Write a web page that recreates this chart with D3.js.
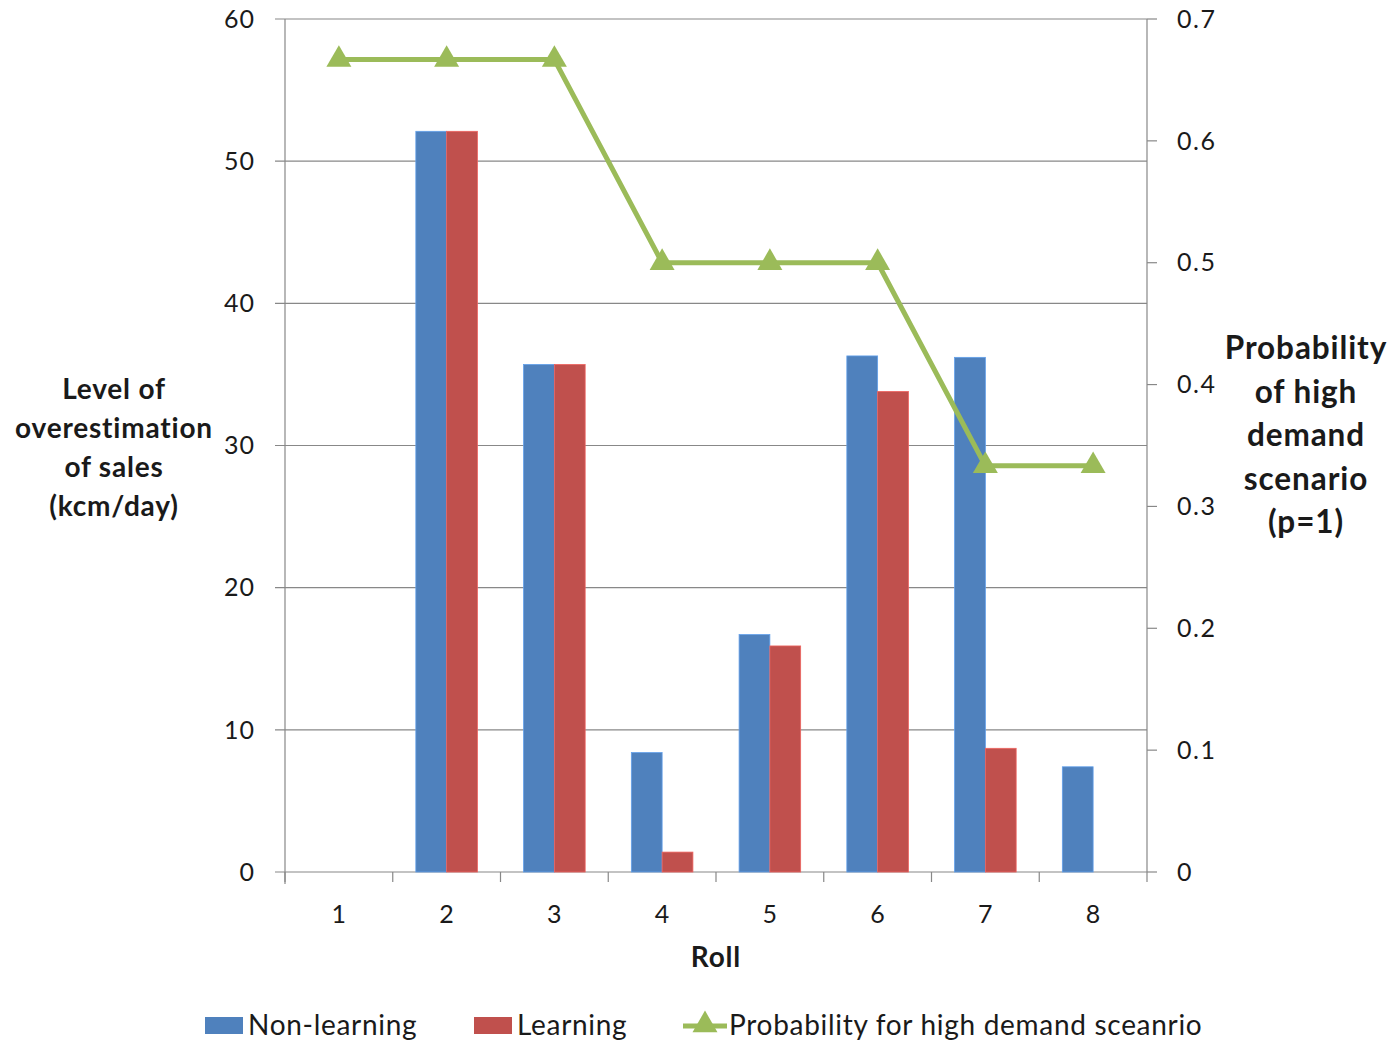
<!DOCTYPE html>
<html>
<head>
<meta charset="utf-8">
<script src="https://cdn.jsdelivr.net/npm/d3@7"></script>
<style>
  html, body { margin: 0; padding: 0; background: #fff; }
  svg { display: block; font-family: Lato, "Open Sans", sans-serif; }
</style>
</head>
<body>
<svg id="chart" width="1395" height="1042"></svg>
<script>
// Rolls and series values
const rolls = ["1", "2", "3", "4", "5", "6", "7", "8"];
const nonLearning = [0, 52.1, 35.7, 8.4, 16.7, 36.3, 36.2, 7.4];
const learning = [0, 52.1, 35.7, 1.4, 15.9, 33.8, 8.7, 0];
const probHigh = [2/3, 2/3, 2/3, 0.5, 0.5, 0.5, 1/3, 1/3];
const leftTicks = [0, 10, 20, 30, 40, 50, 60];
const rightTicks = [0, 0.1, 0.2, 0.3, 0.4, 0.5, 0.6, 0.7];
const seriesNames = ["Non-learning", "Learning", "Probability for high demand sceanrio"];

const colors = { blue: "#4F81BD", red: "#C0504D", green: "#9BBB59", grid: "#888888", text: "#1a1a1a" };

const svg = d3.select("#chart");
const plot = { left: 285, right: 1147, top: 19, bottom: 872 };

const x = d3.scaleBand().domain(rolls).range([plot.left, plot.right]).paddingInner(0).paddingOuter(0);
const yL = d3.scaleLinear().domain([0, 60]).range([plot.bottom, plot.top]);
const yR = d3.scaleLinear().domain([0, 0.7]).range([plot.bottom, plot.top]);

// Horizontal gridlines from the left axis
svg.append("g").selectAll("line").data(leftTicks).join("line")
  .attr("x1", plot.left - 10).attr("x2", plot.right)
  .attr("y1", d => yL(d)).attr("y2", d => yL(d))
  .attr("stroke", colors.grid).attr("stroke-width", 1.2);

// Left axis line and labels
svg.append("line").attr("x1", plot.left).attr("x2", plot.left)
  .attr("y1", plot.top).attr("y2", plot.bottom + 12)
  .attr("stroke", colors.grid).attr("stroke-width", 1.2);
svg.append("g").selectAll("text").data(leftTicks).join("text")
  .attr("x", 255).attr("y", d => yL(d)).attr("dy", "0.35em")
  .attr("text-anchor", "end").attr("font-size", 25).attr("letter-spacing", 1)
  .attr("fill", colors.text)
  .text(d => d);

// Right axis line, ticks and labels
svg.append("line").attr("x1", plot.right).attr("x2", plot.right)
  .attr("y1", plot.top).attr("y2", plot.bottom)
  .attr("stroke", colors.grid).attr("stroke-width", 1.2);
svg.append("g").selectAll("line").data(rightTicks).join("line")
  .attr("x1", plot.right).attr("x2", plot.right + 10)
  .attr("y1", d => yR(d)).attr("y2", d => yR(d))
  .attr("stroke", colors.grid).attr("stroke-width", 1.2);
svg.append("g").selectAll("text").data(rightTicks).join("text")
  .attr("x", 1177).attr("y", d => yR(d)).attr("dy", "0.35em")
  .attr("text-anchor", "start").attr("font-size", 25).attr("letter-spacing", 1.5)
  .attr("fill", colors.text)
  .text(d => d3.format(".1f")(d).replace(/^0\.0$/, "0"));

// Category tick marks at band boundaries
const bounds = rolls.map(r => x(r)).concat([plot.right]);
svg.append("g").selectAll("line").data(bounds).join("line")
  .attr("x1", d => d).attr("x2", d => d)
  .attr("y1", plot.bottom).attr("y2", plot.bottom + 10)
  .attr("stroke", colors.grid).attr("stroke-width", 1.2);
svg.append("g").selectAll("text").data(rolls).join("text")
  .attr("x", d => x(d) + x.bandwidth() / 2).attr("y", 914).attr("dy", "0.35em")
  .attr("text-anchor", "middle").attr("font-size", 25).attr("fill", colors.text)
  .text(d => d);

// Clustered bars: gap width 150% of a bar
const barW = x.bandwidth() / 3.5;
const series = [
  { values: nonLearning, color: colors.blue, offset: -barW },
  { values: learning, color: colors.red, offset: 0 }
];
series.forEach(s => {
  svg.append("g").selectAll("rect").data(rolls.map((r, i) => ({ r, v: s.values[i] })).filter(d => d.v > 0))
    .join("rect")
    .attr("x", d => x(d.r) + x.bandwidth() / 2 + s.offset)
    .attr("width", barW)
    .attr("y", d => yL(d.v))
    .attr("height", d => yL(0) - yL(d.v))
    .attr("fill", s.color)
    .attr("stroke", d3.color(s.color).brighter(0.6))
    .attr("stroke-width", 0.8);
});

// Probability line with triangle markers
const cx = r => x(r) + x.bandwidth() / 2;
const line = d3.line().x((d, i) => cx(rolls[i])).y(d => yR(d));
svg.append("path").datum(probHigh)
  .attr("d", line).attr("fill", "none")
  .attr("stroke", colors.green).attr("stroke-width", 5).attr("stroke-linejoin", "round");
const tri = d3.symbol().type(d3.symbolTriangle).size(270);
svg.append("g").selectAll("path").data(probHigh).join("path")
  .attr("transform", (d, i) => `translate(${cx(rolls[i])},${yR(d)})`)
  .attr("d", tri).attr("fill", colors.green);

// Axis titles
const leftTitle = ["Level of", "overestimation", "of sales", "(kcm/day)"];
svg.append("text").attr("font-size", 28).attr("font-weight", "bold").attr("letter-spacing", 0.8)
  .attr("fill", colors.text).attr("text-anchor", "middle")
  .selectAll("tspan").data(leftTitle).join("tspan")
  .attr("x", 114).attr("y", (d, i) => 399 + i * 39).text(d => d);

const rightTitle = ["Probability", "of high", "demand", "scenario", "(p=1)"];
svg.append("text").attr("font-size", 31.5).attr("font-weight", "bold").attr("letter-spacing", 0.9)
  .attr("fill", colors.text).attr("text-anchor", "middle")
  .selectAll("tspan").data(rightTitle).join("tspan")
  .attr("x", 1306).attr("y", (d, i) => 359 + i * 43.5).text(d => d);

svg.append("text").attr("x", 716).attr("y", 967).attr("text-anchor", "middle")
  .attr("font-size", 28).attr("font-weight", "bold").attr("letter-spacing", 0.8)
  .attr("fill", colors.text).text("Roll");

// Legend
const lg = svg.append("g").attr("font-size", 28).attr("letter-spacing", 0.7).attr("fill", colors.text);
lg.append("rect").attr("x", 205).attr("y", 1017).attr("width", 38).attr("height", 17).attr("fill", colors.blue);
lg.append("text").attr("x", 248).attr("y", 1035).text(seriesNames[0]);
lg.append("rect").attr("x", 474).attr("y", 1017).attr("width", 38).attr("height", 17).attr("fill", colors.red);
lg.append("text").attr("x", 517).attr("y", 1035).text(seriesNames[1]);
lg.append("line").attr("x1", 683).attr("x2", 727).attr("y1", 1026).attr("y2", 1026)
  .attr("stroke", colors.green).attr("stroke-width", 5);
lg.append("path").attr("transform", "translate(705,1025)").attr("d", tri).attr("fill", colors.green);
lg.append("text").attr("x", 729).attr("y", 1035).text(seriesNames[2]);
</script>
</body>
</html>
